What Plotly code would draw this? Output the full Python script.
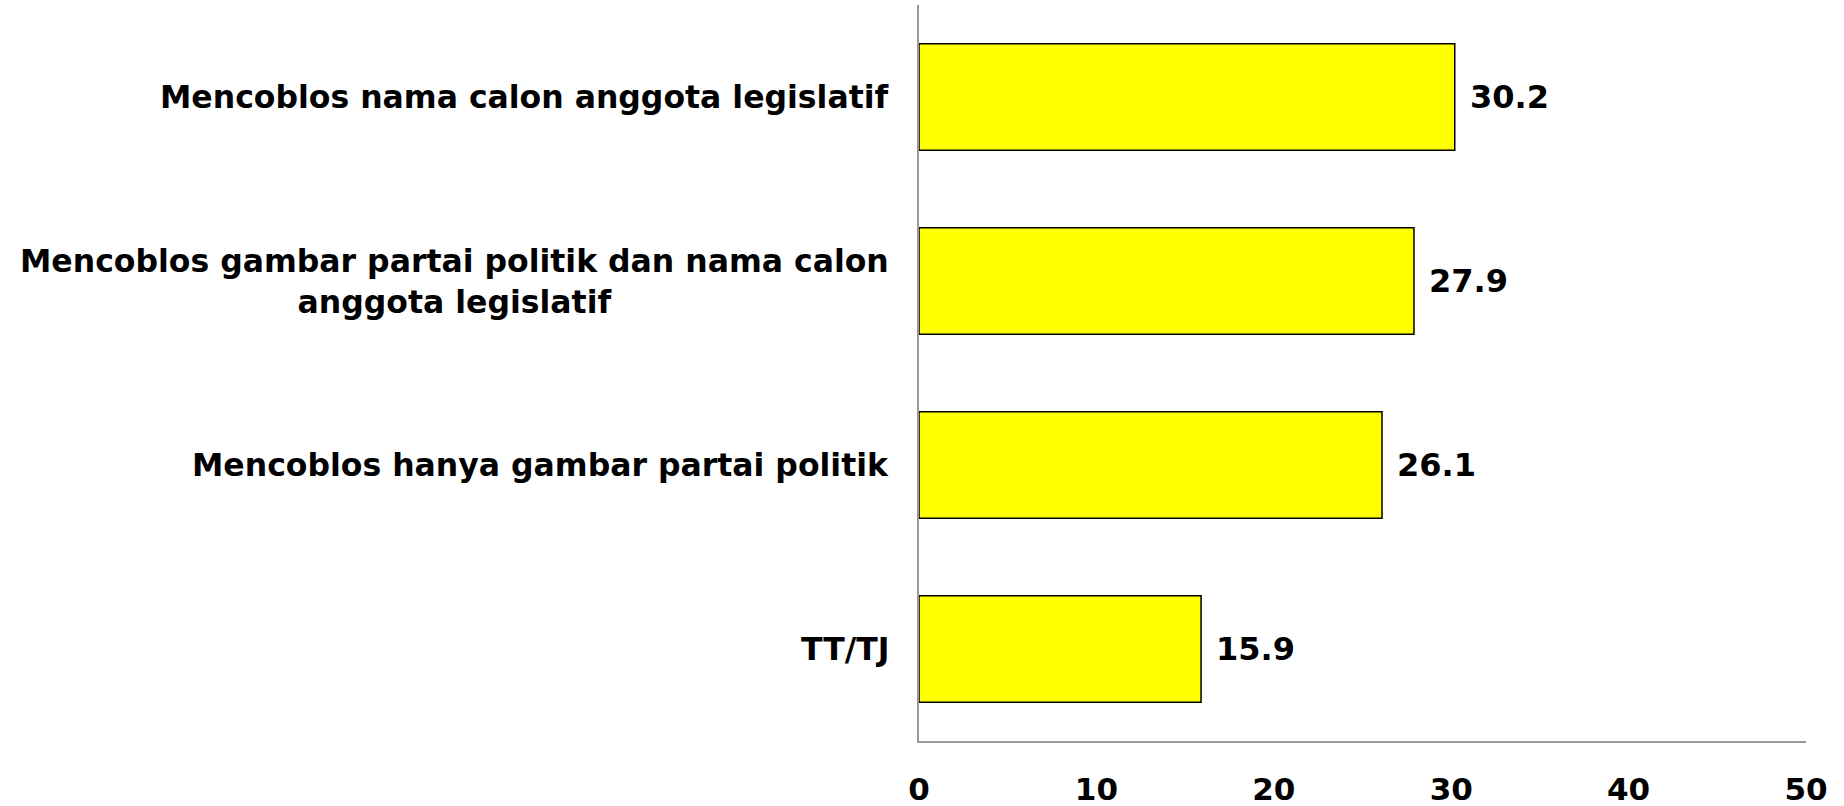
import plotly.graph_objects as go

categories = [
    "Mencoblos nama calon anggota legislatif",
    "Mencoblos gambar partai politik dan nama calon<br>anggota legislatif",
    "Mencoblos hanya gambar partai politik",
    "TT/TJ",
]
values = [30.2, 27.9, 26.1, 15.9]
tick_vals = [0, 10, 20, 30, 40, 50]

FONT = "DejaVu Sans"

fig = go.Figure()
fig.add_trace(go.Bar(
    x=values,
    y=categories,
    orientation="h",
    marker=dict(color="#FFFF00", line=dict(color="#000000", width=1.5)),
    hoverinfo="skip",
))

annotations = []
for cat, v in zip(categories, values):
    annotations.append(dict(
        x=0, y=cat, xref="x", yref="y", text=cat, showarrow=False,
        xanchor="right", yanchor="middle", align="center", xshift=-28,
        font=dict(family=FONT, size=31.5, color="#000000", weight="bold"),
    ))
    annotations.append(dict(
        x=v, y=cat, xref="x", yref="y", text=f"{v:.1f}", showarrow=False,
        xanchor="left", yanchor="middle", xshift=13,
        font=dict(family=FONT, size=32, color="#000000", weight="bold"),
    ))

fig.update_layout(
    width=1844, height=806,
    margin=dict(l=919, r=38, t=5, b=65, autoexpand=False),
    paper_bgcolor="white", plot_bgcolor="white",
    bargap=0.42,
    showlegend=False,
    annotations=annotations,
    xaxis=dict(
        range=[0, 50], tickvals=tick_vals, ticktext=[str(t) for t in tick_vals],
        showgrid=False, zeroline=False, showline=True, linecolor="#999999", linewidth=2,
        ticks="", ticklabelstandoff=20, automargin=False,
        tickfont=dict(family=FONT, size=31, color="#000000", weight="bold"),
    ),
    yaxis=dict(
        categoryorder="array", categoryarray=categories,
        range=[3.5, -0.5], automargin=False,
        showgrid=False, zeroline=False, showline=True, linecolor="#999999", linewidth=2,
        ticks="", showticklabels=False,
    ),
)

fig.write_html(
    "out.html",
    config={"displayModeBar": False},
    post_script="document.body.style.margin='0px';document.body.style.overflow='hidden';",
)
